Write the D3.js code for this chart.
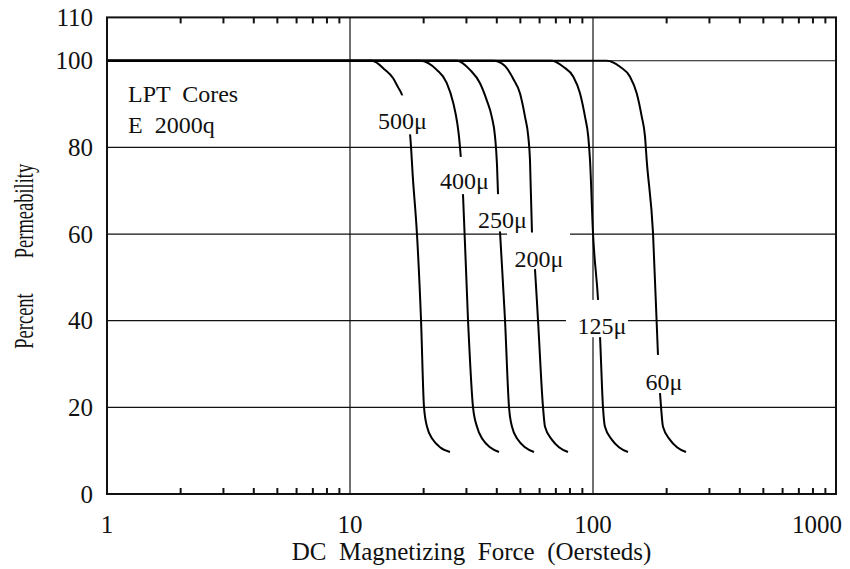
<!DOCTYPE html>
<html><head><meta charset="utf-8">
<script src="https://cdn.jsdelivr.net/npm/d3@7"></script>
<style>
body{margin:0;background:#fff}
</style>
</head><body><svg id="c" width="850" height="569"></svg>
<script>
// ---------- data ----------
const xDomain = [1, 1000];
const yDomain = [0, 110];
const yTickValues = [0, 20, 40, 60, 80, 100, 110];
const xTickLabels = [1, 10, 100, 1000];
const xGridValues = [10, 100];
const yGridValues = [20, 40, 60, 80, 100];
const minorTickValues = [2,3,4,5,6,7,8,9,20,30,40,50,60,70,80,90,200,300,400,500,600,700,800,900];

const seriesNames = ["500μ", "400μ", "250μ", "200μ", "125μ", "60μ"];

// [H (Oersteds), % permeability]
const curve500 = [[1,100],[12.3,100],[13.93,97.9],[15.03,96.0],[15.76,93.9],[16.37,92.1],[17.66,83.1],[18.17,72.5],[18.87,59.8],[19.6,40.2],[20.16,20.1],[20.75,15.5],[21.96,12.5],[23.46,10.8],[25.79,9.7]];
const curve400 = [[1,100],[19.4,100],[22.75,97.9],[25.0,94.9],[26.62,90.2],[27.65,85.5],[28.09,82.5],[28.54,78.1],[29.17,69.2],[30.59,40.2],[32.07,20.1],[33.31,15.5],[35.26,12.5],[37.68,10.8],[41.04,9.7]];
const curve250 = [[1,100],[27.5,100],[31.18,97.9],[34.28,94.8],[36.52,90.9],[38.3,87.1],[39.52,82.5],[40.27,75.9],[40.66,69.2],[41.43,60.5],[43.44,40.2],[45.11,20.1],[46.42,15.5],[49.13,12.5],[52.5,10.8],[57.18,9.7]];
const curve200 = [[1,100],[38.9,100],[43.44,98.8],[46.99,95.8],[50.06,92.5],[52.5,87.1],[54.16,82.5],[55.04,77.1],[56.1,60.2],[57.71,51.9],[59.38,40.2],[62.26,20.1],[63.46,15.5],[67.83,12.5],[72.45,10.8],[78.9,9.7]];
const curve125 = [[1,100],[67.6,100],[75.5,98.6],[82.98,96.3],[88.4,92.5],[92.7,87.1],[95.6,82.5],[97.2,77.1],[100,60.2],[104.9,44.8],[106.9,36.2],[109.9,20.1],[112.0,15.5],[119.7,12.5],[127.9,10.8],[139.3,9.7]];
const curve60 = [[1,100],[113.9,100],[129.2,98.6],[142.0,96.3],[151.3,92.5],[158.7,87.1],[163.7,82.5],[166.3,77.1],[176.6,60.2],[185.1,32.1],[188.7,23.3],[190.5,20.1],[194.1,15.5],[207.5,12.5],[221.6,10.8],[241.4,9.7]];
const curves = [curve500, curve400, curve250, curve200, curve125, curve60];

// label anchors (data coords) and knock-out boxes [H0,H1,p0,p1]
const labelAnchors = [[16.44,84.2],[29.59,70.4],[42.42,61.5],[59.96,52.4],[108.9,36.9],[196.0,24.0]];
const labelBoxes = [[12.3,21.75,83.0,92.0],[22.6,38.4,69.2,77.8],[31.8,54.3,60.6,69.2],[44.3,80.4,51.9,60.35],[77.4,139.3,36.2,44.8],[156.1,250.7,23.3,32.1]];

const noteLines = ["LPT  Cores", "E  2000q"];
const noteAnchors = [[1.22,90.5],[1.22,83.3]];

const xTitle = "DC  Magnetizing  Force  (Oersteds)";
const yTitleParts = ["Percent", "Permeability"];

// ---------- drawing ----------
const W = 850, H = 569;
const FONT = "'Liberation Serif', 'Times New Roman', 'DejaVu Serif', serif";
const svg = d3.select("#c");
const x = d3.scaleLog().domain(xDomain).range([107, 836]);
const y = d3.scaleLinear().domain(yDomain).range([494, 17.4]);
const FS = 24;

// gridlines
svg.append("g").selectAll("line").data(yGridValues).join("line")
  .attr("x1", x(xDomain[0])).attr("x2", x(xDomain[1]))
  .attr("y1", d => y(d)).attr("y2", d => y(d))
  .attr("stroke", "#111").attr("stroke-width", 1.2);
svg.append("g").selectAll("line").data(xGridValues).join("line")
  .attr("x1", d => x(d)).attr("x2", d => x(d))
  .attr("y1", y(yDomain[0])).attr("y2", y(yDomain[1]))
  .attr("stroke", "#111").attr("stroke-width", 1.2);

// curves
const line = d3.line().x(d => x(d[0])).y(d => y(d[1])).curve(d3.curveMonotoneX);
svg.append("g").selectAll("path").data(curves).join("path")
  .attr("d", line).attr("fill", "none").attr("stroke", "#000").attr("stroke-width", 2);

// knock-out boxes + labels
svg.append("g").selectAll("rect").data(labelBoxes).join("rect")
  .attr("x", d => x(d[0])).attr("width", d => x(d[1]) - x(d[0]))
  .attr("y", d => y(d[3])).attr("height", d => y(d[2]) - y(d[3]))
  .attr("fill", "#fff");
svg.append("g").selectAll("text").data(seriesNames).join("text")
  .attr("x", (d, i) => x(labelAnchors[i][0])).attr("y", (d, i) => y(labelAnchors[i][1]))
  .attr("text-anchor", "middle").attr("font-size", FS).attr("font-family", FONT).attr("fill", "#111").text(d => d);

// notes
svg.append("g").selectAll("text").data(noteLines).join("text")
  .attr("x", (d, i) => x(noteAnchors[i][0])).attr("y", (d, i) => y(noteAnchors[i][1]))
  .attr("xml:space", "preserve").style("white-space", "pre")
  .attr("font-size", FS).attr("font-family", FONT).attr("fill", "#111").text(d => d);

// frame
svg.append("rect").attr("x", x(xDomain[0])).attr("y", y(yDomain[1]))
  .attr("width", x(xDomain[1]) - x(xDomain[0])).attr("height", y(yDomain[0]) - y(yDomain[1]))
  .attr("fill", "none").attr("stroke", "#111").attr("stroke-width", 2);

// minor ticks (inward) top and bottom
const bottomAxis = d3.axisBottom(x).tickValues(minorTickValues).tickSize(-6).tickFormat("");
const gB = svg.append("g").attr("transform", `translate(0,${y(0)})`).call(bottomAxis);
const topAxis = d3.axisTop(x).tickValues(minorTickValues).tickSize(-6).tickFormat("");
const gT = svg.append("g").attr("transform", `translate(0,${y(110)})`).call(topAxis);
[gB, gT].forEach(g => { g.select(".domain").remove(); g.selectAll("line").attr("stroke", "#111").attr("stroke-width", 2); });

// y tick labels
const leftAxis = d3.axisLeft(y).tickValues(yTickValues).tickSize(0).tickPadding(14).tickFormat(d3.format("d"));
const gL = svg.append("g").attr("transform", `translate(${x(1)},0)`).call(leftAxis);
gL.attr("font-family", FONT).attr("font-size", 25);
gL.select(".domain").remove();
gL.selectAll("text").attr("font-size", 25).attr("font-family", FONT).attr("fill", "#111");

// x tick labels (clamped to fit)
const xl = svg.append("g").selectAll("text").data(xTickLabels).join("text")
  .attr("y", y(0) + 39).attr("text-anchor", "middle").attr("font-size", 25)
  .attr("font-family", FONT).attr("fill", "#111").text(d => d);
xl.each(function(d) {
  const w = this.getComputedTextLength();
  const cx = Math.min(x(d), W - 8 - w / 2);
  d3.select(this).attr("x", cx);
});

// axis titles
svg.append("text").attr("x", (x(1) + x(1000)) / 2).attr("y", 560)
  .attr("text-anchor", "middle").attr("font-size", 25).attr("font-family", FONT).attr("fill", "#111")
  .attr("xml:space", "preserve").style("white-space","pre").text(xTitle);
const yTitleCenters = [321, 211];
svg.append("g").selectAll("text").data(yTitleParts).join("text")
  .attr("transform", (d, i) => `translate(33,${yTitleCenters[i]}) scale(1.5,1) rotate(-90)`)
  .attr("text-anchor", "middle").attr("font-size", 18.5).attr("font-family", FONT).attr("fill", "#111")
  .text(d => d);
</script>
</body></html>
